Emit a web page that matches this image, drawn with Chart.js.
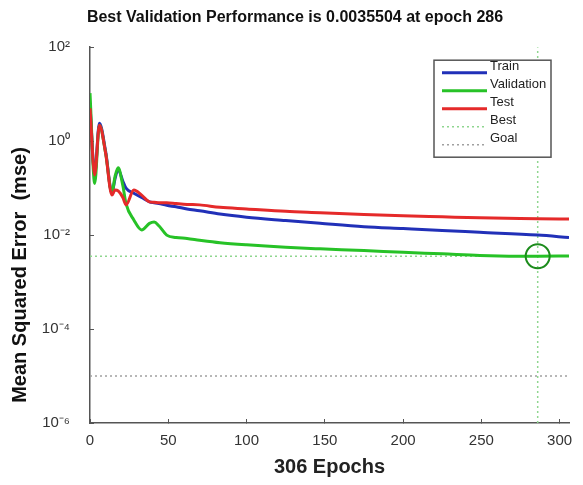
<!DOCTYPE html>
<html>
<head>
<meta charset="UTF-8">
<title>Best Validation Performance</title>
<script src="https://cdn.jsdelivr.net/npm/chart.js"></script>
<style>
  html, body { margin: 0; padding: 0; background: #fff; }
</style>
</head>
<body>
<canvas id="myChart" width="583" height="485"></canvas>
<script>
// values (mse per epoch)
const epochs        = [0, 3, 6, 10, 14, 16, 18, 21, 23, 28, 33, 38, 41, 44, 49, 55, 62, 70, 83, 100, 125, 147, 175, 200, 225, 249, 286, 306];
const trainMse      = [5.9, 0.20, 2.4, 0.6, 0.079, 0.16, 0.25, 0.14, 0.10, 0.078, 0.063, 0.051, 0.049, 0.047, 0.043, 0.040, 0.036, 0.033, 0.028, 0.024, 0.0204, 0.0178, 0.0151, 0.0138, 0.0126, 0.0115, 0.0100, 0.0089];
const validationMse = [10.5, 0.126, 2.19, 0.55, 0.079, 0.178, 0.27, 0.112, 0.047, 0.021, 0.0129, 0.0178, 0.019, 0.0158, 0.010, 0.0089, 0.0085, 0.0078, 0.0069, 0.0062, 0.0055, 0.0051, 0.0047, 0.0043, 0.0040, 0.0037, 0.0035504, 0.0036];
const testMse       = [5.0, 0.19, 2.19, 0.55, 0.071, 0.091, 0.087, 0.063, 0.044, 0.091, 0.071, 0.051, 0.050, 0.049, 0.049, 0.047, 0.045, 0.044, 0.039, 0.036, 0.032, 0.030, 0.0275, 0.0257, 0.0245, 0.0234, 0.0224, 0.0219];

const bestEpoch = 286;
const bestMse = 0.0035504;
const goalMse = 1e-5;
const maxEpoch = 306;

const yTickValues = [1e-6, 1e-4, 1e-2, 1, 1e2];
const yTickLabels = ['10⁻⁶', '10⁻⁴', '10⁻²', '10⁰', '10²'];

const FONT = '"Liberation Sans", Arial, sans-serif';

function pts(ys) {
  return epochs.map((e, i) => ({ x: e, y: ys[i] }));
}

// legend box in the upper right corner of the plot, like matlab's
const legendBox = {
  id: 'legendBox',
  afterDatasetsDraw(chart) {
    const ctx = chart.ctx;
    const area = chart.chartArea;
    const items = chart.data.datasets.filter(d => !d.noLegend);
    const w = 117, h = 97;
    const x0 = area.right - 18 - w, y0 = area.top + 13;
    ctx.save();
    ctx.fillStyle = '#fff';
    ctx.fillRect(x0, y0, w, h);
    ctx.strokeStyle = '#555';
    ctx.lineWidth = 1.5;
    ctx.strokeRect(x0, y0, w, h);
    ctx.font = '13px ' + FONT;
    ctx.textBaseline = 'middle';
    items.forEach((d, i) => {
      const y = y0 + 12.5 + i * 18;
      ctx.strokeStyle = d.borderColor;
      ctx.lineWidth = d.borderWidth;
      ctx.setLineDash(d.borderDash || []);
      ctx.beginPath();
      ctx.moveTo(x0 + 8, y);
      ctx.lineTo(x0 + 53, y);
      ctx.stroke();
      ctx.setLineDash([]);
      ctx.fillStyle = '#222';
      ctx.fillText(d.label, x0 + 56, y - 6);
    });
    ctx.restore();
  }
};

// y axis title sits a bit below the middle of the axis in the original
const yTitle = {
  id: 'yTitle',
  afterDraw(chart) {
    const ctx = chart.ctx;
    ctx.save();
    ctx.translate(20, 275);
    ctx.rotate(-Math.PI / 2);
    ctx.font = 'bold 20px ' + FONT;
    ctx.fillStyle = '#111';
    ctx.textAlign = 'center';
    ctx.textBaseline = 'middle';
    ctx.fillText('Mean Squared Error  (mse)', 0, 0);
    ctx.restore();
  }
};

const lineOpts = { pointRadius: 0, borderWidth: 3, cubicInterpolationMode: 'monotone', fill: false };

const data = {
  datasets: [
    { label: 'Train', data: pts(trainMse), borderColor: '#2130b8', order: 3, ...lineOpts },
    { label: 'Validation', data: pts(validationMse), borderColor: '#27c227', order: 2, ...lineOpts },
    { label: 'Test', data: pts(testMse), borderColor: '#e52a2a', order: 1, ...lineOpts },
    { label: 'Best', data: [{ x: 0, y: bestMse }, { x: maxEpoch, y: bestMse }],
      borderColor: '#8fd68f', borderWidth: 1.5, borderDash: [2, 3], pointRadius: 0, order: 5 },
    { label: 'Goal', data: [{ x: 0, y: goalMse }, { x: maxEpoch, y: goalMse }],
      borderColor: '#a0a0a0', borderWidth: 1.5, borderDash: [2, 3], pointRadius: 0, order: 5 },
    { label: 'Best epoch', noLegend: true, data: [{ x: bestEpoch, y: 1e-6 }, { x: bestEpoch, y: 1e2 }],
      borderColor: '#8fd68f', borderWidth: 1.5, borderDash: [2, 3], pointRadius: 0, order: 5 },
    { type: 'scatter', label: 'Best point', noLegend: true, data: [{ x: bestEpoch, y: bestMse }],
      pointRadius: 12, pointBorderWidth: 2, pointBorderColor: '#1c8c1c',
      pointBackgroundColor: 'rgba(0,0,0,0)', showLine: false, order: 0 }
  ]
};

const config = {
  type: 'line',
  data: data,
  options: {
    responsive: false,
    animation: false,
    layout: { padding: { left: 20, right: 13, top: 0, bottom: 0 } },
    plugins: {
      legend: { display: false },
      tooltip: { enabled: false },
      title: {
        display: true,
        text: 'Best Validation Performance is 0.0035504 at epoch 286',
        color: '#111',
        font: { family: FONT, size: 16, weight: 'bold' },
        padding: { top: 8, bottom: 20 }
      }
    },
    scales: {
      x: {
        type: 'linear',
        min: 0,
        max: maxEpoch,
        // fixed height, and no extra room reserved for the last tick label
        afterFit: s => { s.height = 62; s.paddingRight = 0; s.paddingLeft = 0; },
        border: { color: '#555', width: 1.5 },
        grid: { drawOnChartArea: false, tickLength: -4, color: '#555' },
        ticks: { stepSize: 50, includeBounds: false, padding: 13, maxRotation: 0,
                 color: '#333', font: { family: FONT, size: 15 } },
        title: { display: true, text: '306 Epochs', color: '#222',
                 font: { family: FONT, size: 20, weight: 'bold' }, padding: { top: 0, bottom: 6 } }
      },
      y: {
        type: 'logarithmic',
        min: 1e-6,
        max: 1e2,
        afterBuildTicks: s => { s.ticks = yTickValues.map(v => ({ value: v })); },
        afterFit: s => { s.width = 70; },
        border: { color: '#555', width: 1.5 },
        grid: { drawOnChartArea: false, tickLength: -4, color: '#555' },
        ticks: { padding: 24, color: '#333', font: { family: FONT, size: 15 },
                 callback: (v, i) => yTickLabels[i] }
      }
    }
  },
  plugins: [legendBox, yTitle]
};

var myChart = new Chart(document.getElementById('myChart'), config);
</script>
</body>
</html>
